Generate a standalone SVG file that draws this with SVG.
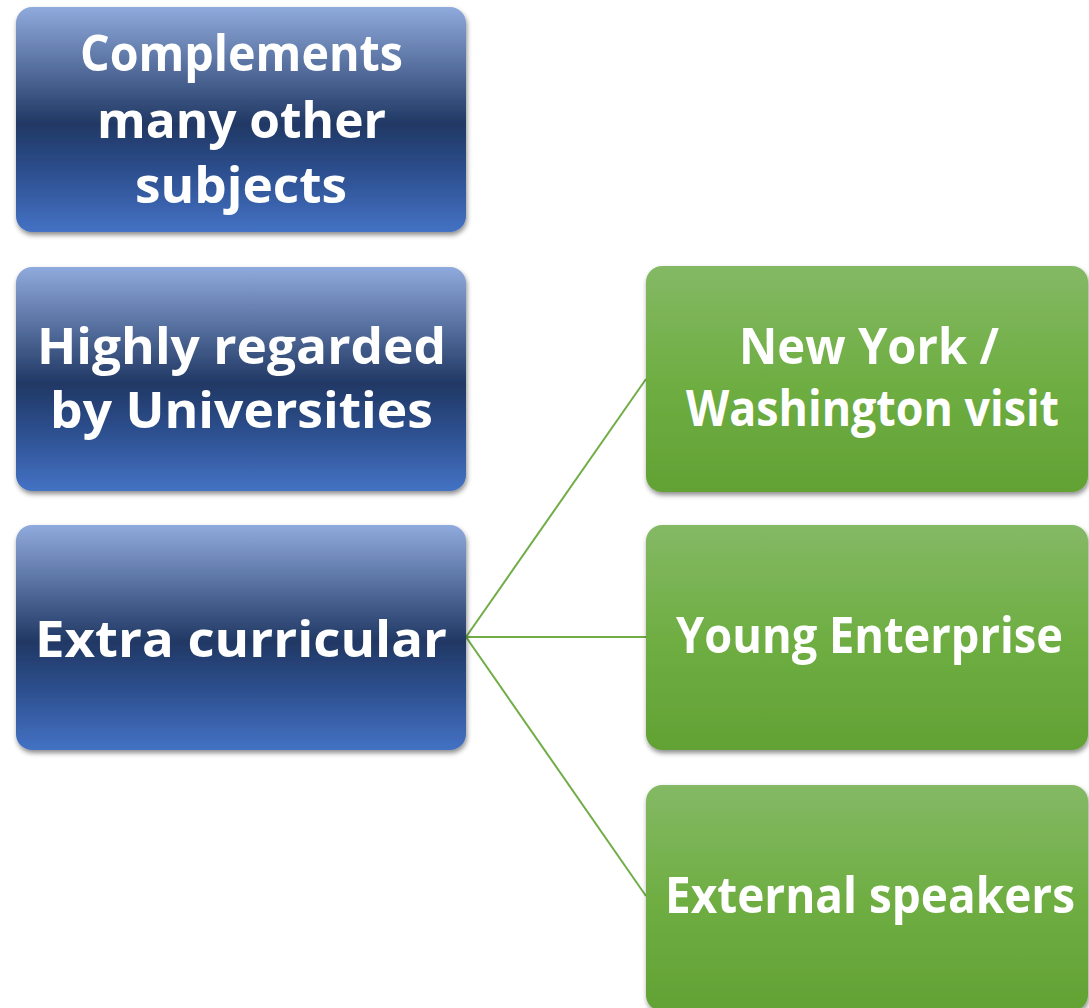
<svg xmlns="http://www.w3.org/2000/svg" width="1089" height="1008" viewBox="0 0 1089 1008">
  <defs>
    <linearGradient id="blueGrad" x1="0" y1="0" x2="0" y2="1">
      <stop offset="0" stop-color="#8faadc"/>
      <stop offset="0.52" stop-color="#203864"/>
      <stop offset="0.75" stop-color="#2e5192"/>
      <stop offset="1" stop-color="#4472c4"/>
    </linearGradient>
    <linearGradient id="greenGrad" x1="0" y1="0" x2="0" y2="1">
      <stop offset="0" stop-color="#84b965"/>
      <stop offset="0.5" stop-color="#6fae43"/>
      <stop offset="1" stop-color="#62a234"/>
    </linearGradient>
    <filter id="shadow" x="-10%" y="-10%" width="120%" height="125%">
      <feDropShadow dx="1" dy="3" stdDeviation="2.5" flood-color="#000" flood-opacity="0.45"/>
    </filter>
  </defs>
  <style>
    .blue { fill: url(#blueGrad); filter: url(#shadow); }
    .green { fill: url(#greenGrad); filter: url(#shadow); }
    .lbl { font-family: "Open Sans", "Liberation Sans", sans-serif; font-weight: bold; font-size: 51px; fill: #ffffff; }
    .conn { stroke: #70ad47; stroke-width: 2; fill: none; }
  </style>
  <rect width="1089" height="1008" fill="#ffffff"/>

  <g id="connectors">
    <line class="conn" x1="466" y1="637" x2="646" y2="379"/>
    <line class="conn" x1="466" y1="637" x2="646" y2="637"/>
    <line class="conn" x1="466" y1="637" x2="646" y2="896"/>
  </g>

  <g id="node-complements">
    <rect class="blue" x="16" y="7" width="450" height="225" rx="16"/>
    <text class="lbl" x="80" y="71" textLength="323" lengthAdjust="spacingAndGlyphs">Complements</text>
    <text class="lbl" x="97" y="138" textLength="289" lengthAdjust="spacingAndGlyphs">many other</text>
    <text class="lbl" x="135" y="203" textLength="212" lengthAdjust="spacingAndGlyphs">subjects</text>
  </g>

  <g id="node-highly-regarded">
    <rect class="blue" x="16" y="267" width="450" height="224" rx="16"/>
    <text class="lbl" x="37" y="364" textLength="409" lengthAdjust="spacingAndGlyphs">Highly regarded</text>
    <text class="lbl" x="50" y="428" textLength="383" lengthAdjust="spacingAndGlyphs">by Universities</text>
  </g>

  <g id="node-extra-curricular">
    <rect class="blue" x="16" y="525" width="450" height="225" rx="16"/>
    <text class="lbl" x="35" y="657" textLength="412" lengthAdjust="spacingAndGlyphs">Extra curricular</text>
  </g>

  <g id="node-new-york">
    <rect class="green" x="646" y="266" width="442" height="226" rx="16"/>
    <text class="lbl" x="739" y="364" textLength="260" lengthAdjust="spacingAndGlyphs">New York /</text>
    <text class="lbl" x="686" y="426" textLength="373" lengthAdjust="spacingAndGlyphs">Washington visit</text>
  </g>

  <g id="node-young-enterprise">
    <rect class="green" x="646" y="525" width="442" height="225" rx="16"/>
    <text class="lbl" x="676" y="653" textLength="387" lengthAdjust="spacingAndGlyphs">Young Enterprise</text>
  </g>

  <g id="node-external-speakers">
    <rect class="green" x="646" y="785" width="442" height="226" rx="16"/>
    <text class="lbl" x="665" y="913" textLength="410" lengthAdjust="spacingAndGlyphs">External speakers</text>
  </g>
</svg>
